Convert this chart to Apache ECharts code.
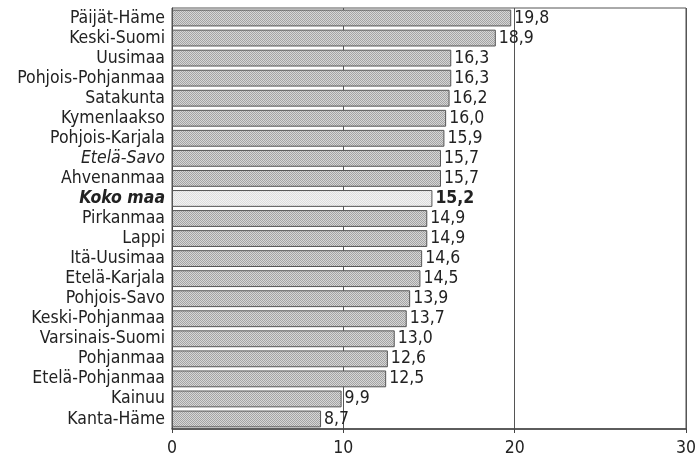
<!DOCTYPE html>
<html><head><meta charset="utf-8">
<script src="https://cdn.jsdelivr.net/npm/echarts@6/dist/echarts.min.js"></script>
<style>html,body{margin:0;padding:0;background:#fff}#c{width:699px;height:462px}</style>
</head><body><div id="c"></div>
<script>
const categories = ["Päijät-Häme","Keski-Suomi","Uusimaa","Pohjois-Pohjanmaa","Satakunta","Kymenlaakso","Pohjois-Karjala","Etelä-Savo","Ahvenanmaa","Koko maa","Pirkanmaa","Lappi","Itä-Uusimaa","Etelä-Karjala","Pohjois-Savo","Keski-Pohjanmaa","Varsinais-Suomi","Pohjanmaa","Etelä-Pohjanmaa","Kainuu","Kanta-Häme"];
const values = [19.8,18.9,16.3,16.3,16.2,16.0,15.9,15.7,15.7,15.2,14.9,14.9,14.6,14.5,13.9,13.7,13.0,12.6,12.5,9.9,8.7];
const xTicks = [0,10,20,30];
const italicCats = ["Etelä-Savo"];
const highlightCat = "Koko maa";

function makePattern(a, b) {
  const cv = document.createElement('canvas');
  cv.width = 2; cv.height = 2;
  const ctx = cv.getContext('2d');
  ctx.fillStyle = b; ctx.fillRect(0,0,2,2);
  ctx.fillStyle = a; ctx.fillRect(0,0,1,1); ctx.fillRect(1,1,1,1);
  return {image: cv, repeat: 'repeat'};
}
const darkPat = makePattern('#a4a4a4', '#d6d6d6');
const lightPat = makePattern('#dedede', '#f3f3f3');

const FONT = '"Liberation Sans Narrow", "DejaVu Sans Condensed", sans-serif';
const FS = 17.5;

const chart = echarts.init(document.getElementById('c'));
chart.setOption({
  animation: false,
  grid: {left: 172, right: 12, top: 8, bottom: 33, show: true, borderColor: '#555', borderWidth: 1, containLabel: false},
  xAxis: {
    type: 'value', min: 0, max: 30, interval: 10,
    axisLine: {show: true, lineStyle: {color: '#444', width: 1.5}},
    axisTick: {show: true, length: 4, lineStyle: {color: '#444'}},
    splitLine: {show: true, lineStyle: {color: '#555', width: 1}},
    axisLabel: {fontFamily: FONT, fontSize: FS, color: '#222', margin: 10,
      formatter: v => xTicks.includes(v) ? String(v) : ''}
  },
  yAxis: {
    type: 'category', data: categories, inverse: true,
    axisLine: {show: true, lineStyle: {color: '#444'}},
    axisTick: {show: false},
    axisLabel: {
      interval: 0,
      fontFamily: FONT, fontSize: FS, color: '#222', margin: 7,
      formatter: v => v === highlightCat ? '{b|' + v + '}' : (italicCats.includes(v) ? '{i|' + v + '}' : v),
      rich: {
        b: {fontFamily: FONT, fontSize: FS, fontWeight: 'bold', fontStyle: 'italic', color: '#222'},
        i: {fontFamily: FONT, fontSize: FS, fontStyle: 'italic', color: '#222'}
      }
    }
  },
  series: [{
    type: 'bar',
    data: values.map((v, i) => ({
      value: v,
      itemStyle: {color: categories[i] === highlightCat ? lightPat : darkPat},
      label: categories[i] === highlightCat ? {fontWeight: 'bold'} : undefined
    })),
    barCategoryGap: '16%',
    itemStyle: {borderColor: '#555', borderWidth: 1},
    label: {
      show: true, position: 'right', distance: 3,
      fontFamily: FONT, fontSize: FS, color: '#222',
      formatter: p => p.value.toFixed(1).replace('.', ',')
    }
  }]
});
</script></body></html>
